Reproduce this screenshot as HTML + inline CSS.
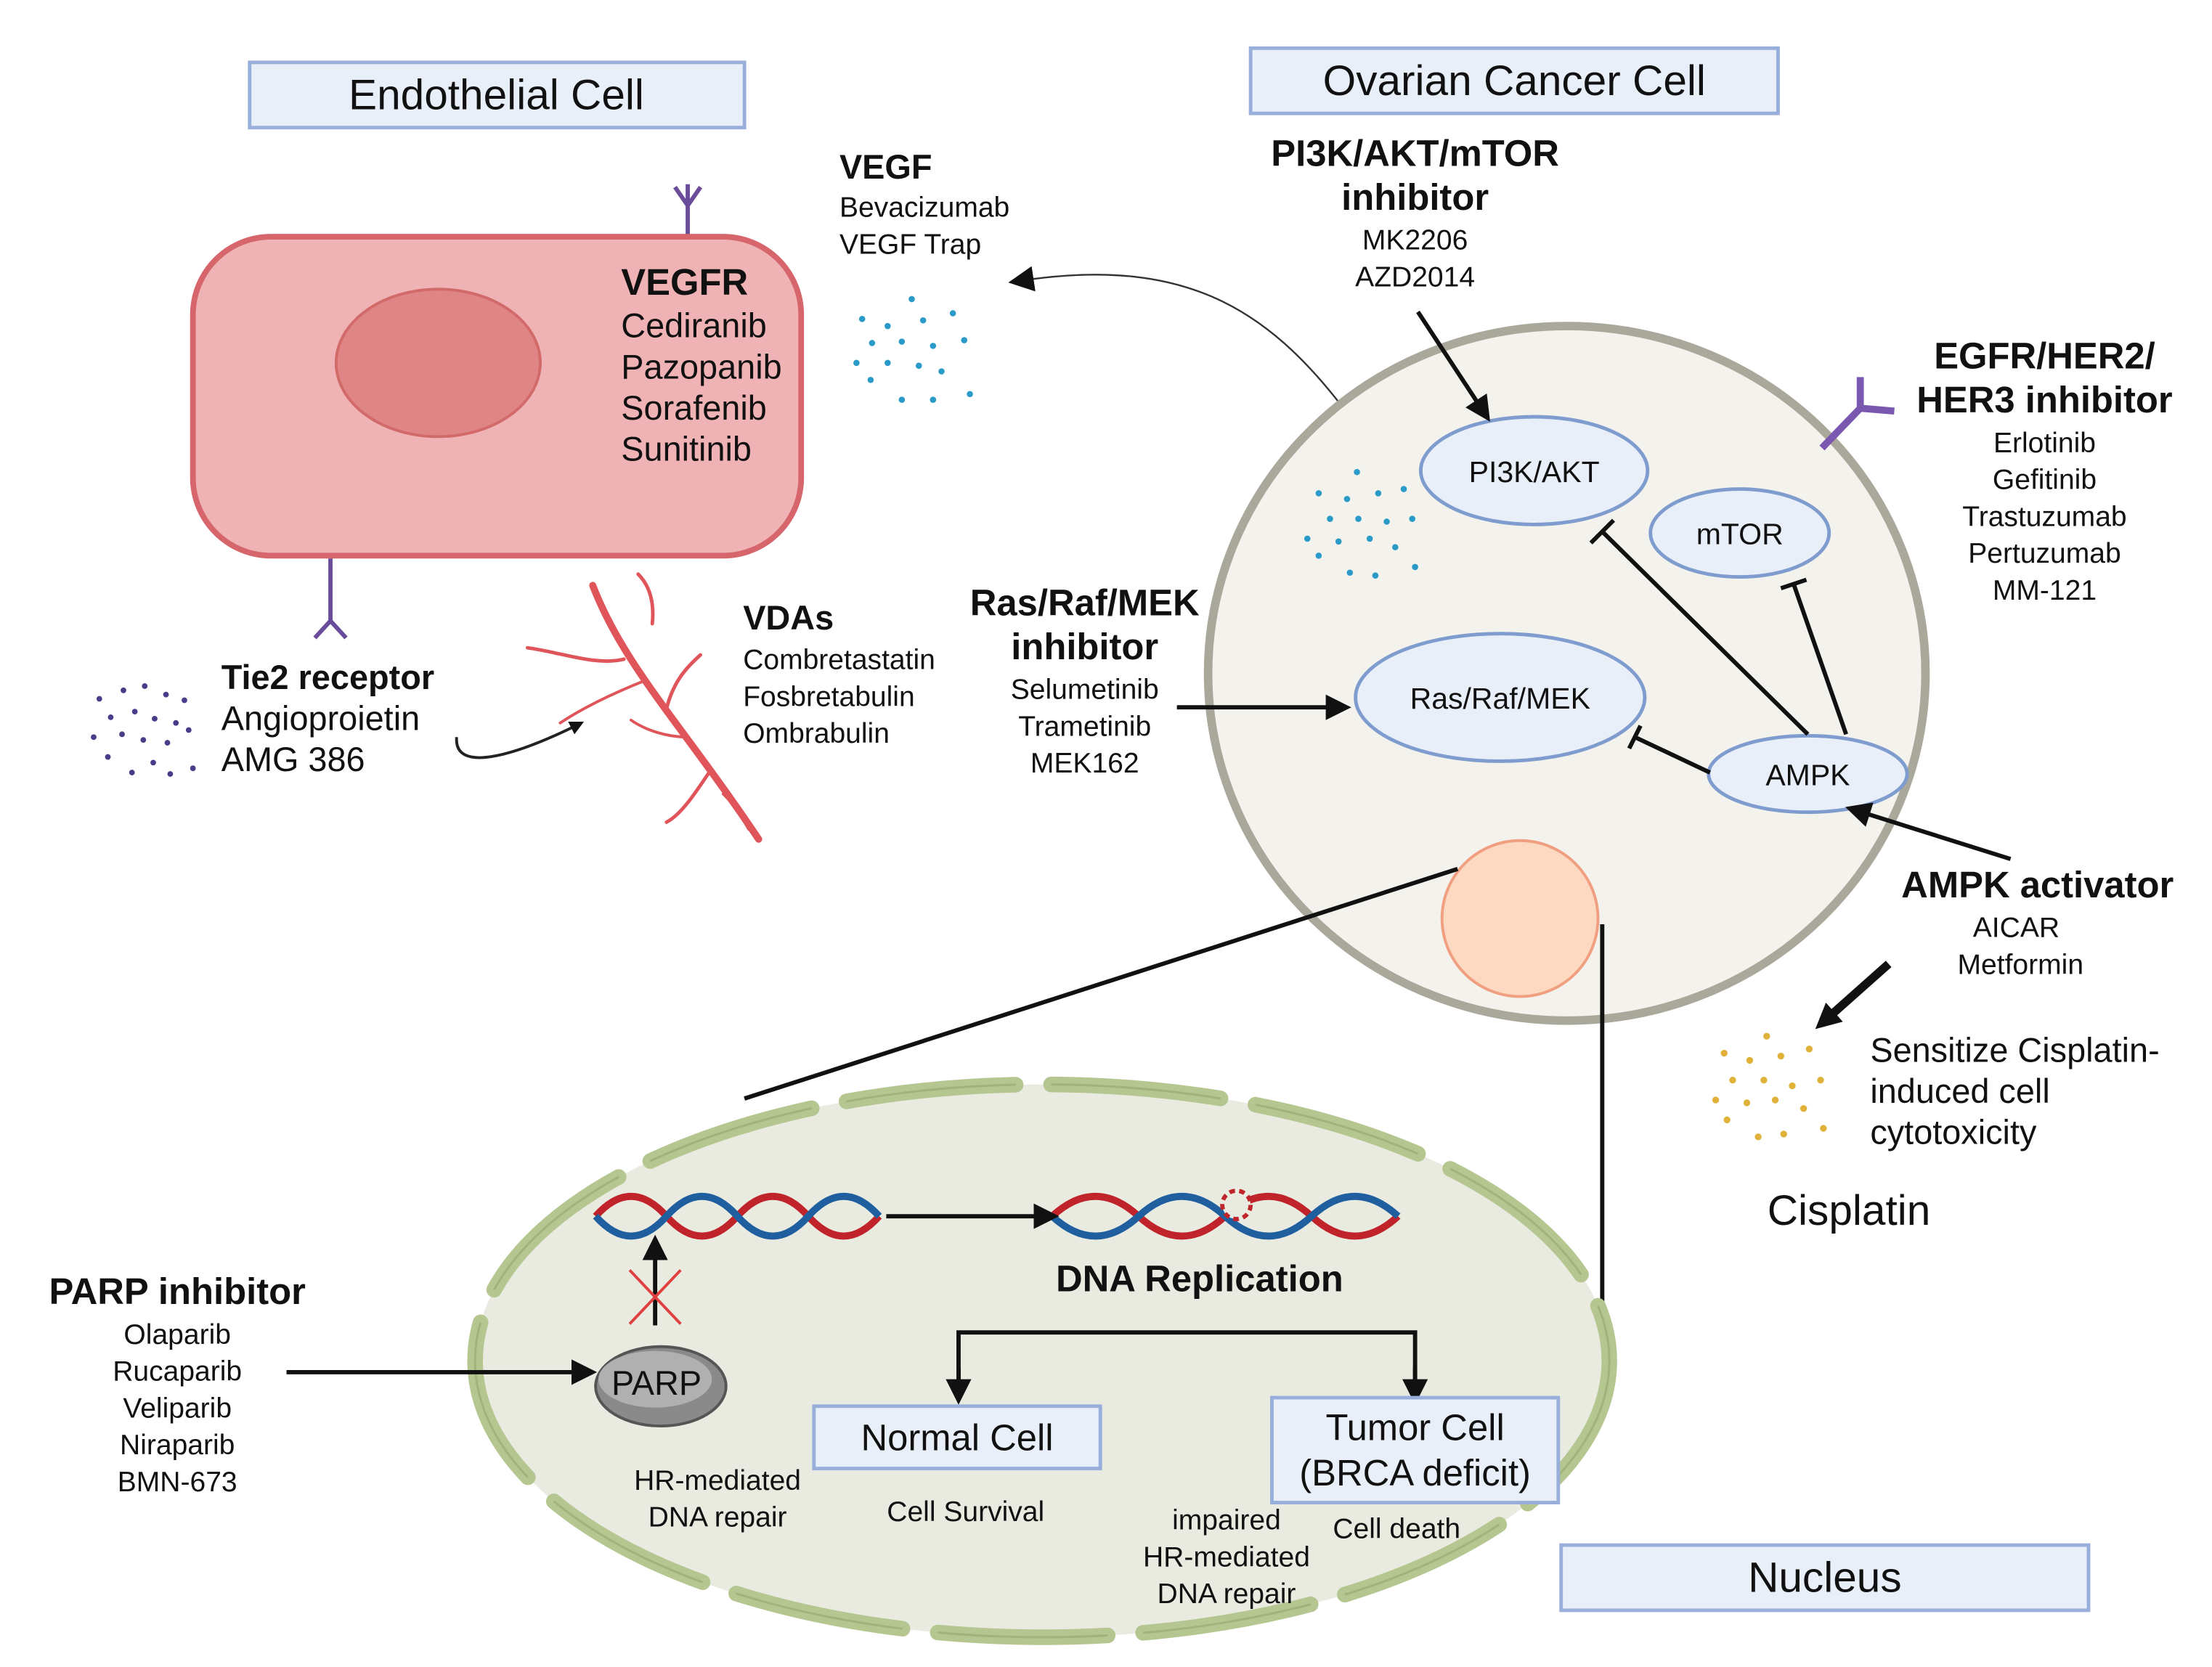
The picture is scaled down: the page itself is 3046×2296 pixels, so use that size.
<!DOCTYPE html>
<html><head><meta charset="utf-8">
<style>
html,body{margin:0;padding:0;background:#fff;}
svg{display:block;}
text{font-family:"Liberation Sans",sans-serif;fill:#111;}
.b{font-weight:bold;}
</style></head>
<body>
<svg width="3046" height="2296" viewBox="0 0 1560 1176" xmlns="http://www.w3.org/2000/svg">
<defs>
<marker id="ah" markerWidth="10" markerHeight="10" refX="8" refY="5" orient="auto" markerUnits="userSpaceOnUse" viewBox="0 0 10 10">
<path d="M0,0 L10,5 L0,10 z" fill="#111"/></marker>
<marker id="ahb" markerWidth="18" markerHeight="18" refX="9" refY="9" orient="auto" markerUnits="userSpaceOnUse" viewBox="0 0 18 18">
<path d="M0,0 L18,9 L0,18 z" fill="#111"/></marker>
</defs>
<rect width="1560" height="1176" fill="#fff"/>

<rect x="176" y="44" width="349" height="46" fill="#e9eff9" stroke="#98aedb" stroke-width="2.5"/>
<text x="350" y="77" font-size="30" text-anchor="middle">Endothelial Cell</text>
<rect x="882" y="34" width="372" height="46" fill="#e9eff9" stroke="#98aedb" stroke-width="2.5"/>
<text x="1068" y="67" font-size="30" text-anchor="middle">Ovarian Cancer Cell</text>

<path d="M485,130 L485,168 M485,145 L476,132 M485,145 L494,132" stroke="#6b4c9a" stroke-width="3" fill="none"/>
<rect x="136" y="167" width="429" height="225" rx="55" fill="#efb3b5" stroke="#d6656c" stroke-width="4"/>
<ellipse cx="309" cy="256" rx="72" ry="52" fill="#e08585" stroke="#d26a6a" stroke-width="2"/>
<text x="438" y="208" font-size="26" class="b">VEGFR</text>
<text x="438" y="238" font-size="24">Cediranib</text>
<text x="438" y="267" font-size="24">Pazopanib</text>
<text x="438" y="296" font-size="24">Sorafenib</text>
<text x="438" y="325" font-size="24">Sunitinib</text>
<path d="M233,394 L233,438 M233,438 L222,450 M233,438 L244,450" stroke="#6b4c9a" stroke-width="3" fill="none"/>

<g fill="#4b3c8a">
<circle cx="70" cy="493" r="2"/><circle cx="87" cy="487" r="2"/><circle cx="102" cy="484" r="2"/><circle cx="117" cy="490" r="2"/><circle cx="130" cy="494" r="2"/>
<circle cx="78" cy="506" r="2"/><circle cx="95" cy="502" r="2"/><circle cx="109" cy="507" r="2"/><circle cx="124" cy="510" r="2"/>
<circle cx="66" cy="520" r="2"/><circle cx="86" cy="518" r="2"/><circle cx="101" cy="522" r="2"/><circle cx="118" cy="524" r="2"/><circle cx="133" cy="515" r="2"/>
<circle cx="76" cy="534" r="2"/><circle cx="93" cy="545" r="2"/><circle cx="108" cy="538" r="2"/><circle cx="120" cy="546" r="2"/><circle cx="136" cy="542" r="2"/>
</g>
<text x="156" y="486" font-size="24" class="b">Tie2 receptor</text>
<text x="156" y="515" font-size="24">Angioproietin</text>
<text x="156" y="544" font-size="24">AMG 386</text>
<path d="M322,520 C320,545 360,535 410,510" stroke="#222" stroke-width="2" fill="none" marker-end="url(#ah)"/>

<g stroke="#e0555a" fill="none" stroke-linecap="round">
<path d="M418,413 C440,470 480,510 535,592" stroke-width="5"/>
<path d="M440,465 C420,470 395,460 372,457" stroke-width="2.5"/>
<path d="M460,440 C462,420 455,410 450,405" stroke-width="2.5"/>
<path d="M470,500 C475,480 485,470 494,462" stroke-width="2.5"/>
<path d="M455,480 C430,490 410,500 395,510" stroke-width="2"/>
<path d="M500,545 C490,560 480,575 470,580" stroke-width="2.5"/>
<path d="M510,560 C520,570 525,580 528,585" stroke-width="2"/>
<path d="M485,520 C470,520 455,515 445,508" stroke-width="2"/>
</g>
<text x="524" y="444" font-size="24" class="b">VDAs</text>
<text x="524" y="472" font-size="20">Combretastatin</text>
<text x="524" y="498" font-size="20">Fosbretabulin</text>
<text x="524" y="524" font-size="20">Ombrabulin</text>

<text x="592" y="126" font-size="24" class="b">VEGF</text>
<text x="592" y="153" font-size="20">Bevacizumab</text>
<text x="592" y="179" font-size="20">VEGF Trap</text>
<g fill="#2a9bc8">
<circle cx="643" cy="211" r="2.2"/><circle cx="608" cy="225" r="2.2"/><circle cx="626" cy="230" r="2.2"/><circle cx="651" cy="226" r="2.2"/><circle cx="672" cy="221" r="2.2"/>
<circle cx="615" cy="242" r="2.2"/><circle cx="636" cy="241" r="2.2"/><circle cx="658" cy="244" r="2.2"/><circle cx="680" cy="240" r="2.2"/>
<circle cx="604" cy="256" r="2.2"/><circle cx="626" cy="256" r="2.2"/><circle cx="648" cy="258" r="2.2"/><circle cx="664" cy="262" r="2.2"/>
<circle cx="614" cy="268" r="2.2"/><circle cx="636" cy="282" r="2.2"/><circle cx="658" cy="282" r="2.2"/><circle cx="684" cy="278" r="2.2"/>
</g>
<path d="M960,305 C900,220 840,180 720,198" stroke="#333" stroke-width="1.2" fill="none" marker-end="url(#ahb)"/>

<ellipse cx="1105" cy="475" rx="253" ry="245" fill="#f4f2ec" stroke="#aaa79b" stroke-width="6"/>
<g fill="#2a9bc8">
<circle cx="957" cy="333" r="2.2"/><circle cx="930" cy="348" r="2.2"/><circle cx="950" cy="352" r="2.2"/><circle cx="972" cy="348" r="2.2"/><circle cx="990" cy="345" r="2.2"/>
<circle cx="938" cy="366" r="2.2"/><circle cx="958" cy="366" r="2.2"/><circle cx="978" cy="368" r="2.2"/><circle cx="996" cy="366" r="2.2"/>
<circle cx="922" cy="380" r="2.2"/><circle cx="944" cy="382" r="2.2"/><circle cx="966" cy="380" r="2.2"/><circle cx="984" cy="386" r="2.2"/>
<circle cx="930" cy="392" r="2.2"/><circle cx="952" cy="404" r="2.2"/><circle cx="970" cy="406" r="2.2"/><circle cx="998" cy="400" r="2.2"/>
</g>
<g fill="#e9eff9" stroke="#7f9ccf" stroke-width="2.5">
<ellipse cx="1082" cy="332" rx="80" ry="38"/>
<ellipse cx="1227" cy="376" rx="63" ry="31"/>
<ellipse cx="1058" cy="492" rx="102" ry="45"/>
<ellipse cx="1275" cy="546" rx="70" ry="27"/>
</g>
<text x="1082" y="340" font-size="21" text-anchor="middle">PI3K/AKT</text>
<text x="1227" y="384" font-size="21" text-anchor="middle">mTOR</text>
<text x="1058" y="500" font-size="21" text-anchor="middle">Ras/Raf/MEK</text>
<text x="1275" y="554" font-size="21" text-anchor="middle">AMPK</text>
<g stroke="#111" stroke-width="3" fill="none">
<path d="M1275,518 L1130,375 M1122,383 L1138,367"/>
<path d="M1302,518 L1265,412 M1256,415 L1274,409"/>
<path d="M1206,545 L1153,520 M1149,528 L1157,512"/>
</g>
<circle cx="1072" cy="648" r="55" fill="#fcd9c0" stroke="#f0a080" stroke-width="2"/>

<text x="998" y="117" font-size="26" class="b" text-anchor="middle">PI3K/AKT/mTOR</text>
<text x="998" y="148" font-size="26" class="b" text-anchor="middle">inhibitor</text>
<text x="998" y="176" font-size="20" text-anchor="middle">MK2206</text>
<text x="998" y="202" font-size="20" text-anchor="middle">AZD2014</text>
<line x1="1000" y1="220" x2="1046" y2="290" stroke="#111" stroke-width="3" marker-end="url(#ahb)"/>

<path d="M1285,316 L1312,288 M1312,288 L1312,266 M1312,288 L1336,290" stroke="#7b58b0" stroke-width="5" fill="none"/>
<text x="1442" y="260" font-size="26" class="b" text-anchor="middle">EGFR/HER2/</text>
<text x="1442" y="291" font-size="26" class="b" text-anchor="middle">HER3 inhibitor</text>
<text x="1442" y="319" font-size="20" text-anchor="middle">Erlotinib</text>
<text x="1442" y="345" font-size="20" text-anchor="middle">Gefitinib</text>
<text x="1442" y="371" font-size="20" text-anchor="middle">Trastuzumab</text>
<text x="1442" y="397" font-size="20" text-anchor="middle">Pertuzumab</text>
<text x="1442" y="423" font-size="20" text-anchor="middle">MM-121</text>

<text x="765" y="434" font-size="26" class="b" text-anchor="middle">Ras/Raf/MEK</text>
<text x="765" y="465" font-size="26" class="b" text-anchor="middle">inhibitor</text>
<text x="765" y="493" font-size="20" text-anchor="middle">Selumetinib</text>
<text x="765" y="519" font-size="20" text-anchor="middle">Trametinib</text>
<text x="765" y="545" font-size="20" text-anchor="middle">MEK162</text>
<line x1="830" y1="499" x2="944" y2="499" stroke="#111" stroke-width="3" marker-end="url(#ahb)"/>

<line x1="1418" y1="606" x2="1310" y2="572" stroke="#111" stroke-width="3" marker-end="url(#ahb)"/>
<text x="1437" y="633" font-size="26" class="b" text-anchor="middle">AMPK activator</text>
<text x="1422" y="661" font-size="20" text-anchor="middle">AICAR</text>
<text x="1425" y="687" font-size="20" text-anchor="middle">Metformin</text>
<line x1="1332" y1="680" x2="1287" y2="720" stroke="#111" stroke-width="6" marker-end="url(#ahb)"/>
<g fill="#e0b23a">
<circle cx="1246" cy="731" r="2.4"/><circle cx="1216" cy="743" r="2.4"/><circle cx="1234" cy="748" r="2.4"/><circle cx="1256" cy="745" r="2.4"/><circle cx="1276" cy="740" r="2.4"/>
<circle cx="1222" cy="762" r="2.4"/><circle cx="1244" cy="762" r="2.4"/><circle cx="1264" cy="766" r="2.4"/><circle cx="1284" cy="762" r="2.4"/>
<circle cx="1210" cy="776" r="2.4"/><circle cx="1232" cy="778" r="2.4"/><circle cx="1252" cy="776" r="2.4"/><circle cx="1272" cy="782" r="2.4"/>
<circle cx="1218" cy="790" r="2.4"/><circle cx="1240" cy="802" r="2.4"/><circle cx="1258" cy="800" r="2.4"/><circle cx="1286" cy="796" r="2.4"/>
</g>
<text x="1319" y="749" font-size="24">Sensitize Cisplatin-</text>
<text x="1319" y="778" font-size="24">induced cell</text>
<text x="1319" y="807" font-size="24">cytotoxicity</text>
<text x="1304" y="864" font-size="30" text-anchor="middle">Cisplatin</text>

<line x1="1028" y1="613" x2="525" y2="775" stroke="#111" stroke-width="3"/>
<line x1="1130" y1="652" x2="1130" y2="935" stroke="#111" stroke-width="3"/>

<ellipse cx="735" cy="960" rx="400" ry="195" fill="#e9ebe1"/>
<ellipse cx="735" cy="960" rx="400" ry="195" fill="none" stroke="#b5c690" stroke-width="11" stroke-dasharray="120 25" stroke-linecap="round"/>
<ellipse cx="735" cy="960" rx="400" ry="195" fill="none" stroke="#93a86c" stroke-width="1.5" stroke-dasharray="120 25" opacity="0.6"/>

<g fill="none" stroke-width="5">
<path d="M420,858 q25,-28 50,0 t50,0 t50,0 t50,0" stroke="#c0242a"/>
<path d="M420,858 q25,28 50,0 t50,0 t50,0 t50,0" stroke="#1f5fa0"/>
<path d="M742,858 q30.5,-28 61,0 t61,0 t61,0 t61,0" stroke="#c0242a"/>
<path d="M742,858 q30.5,28 61,0 t61,0 t61,0 t61,0" stroke="#1f5fa0"/>
</g>
<circle cx="872" cy="850" r="10" fill="#e9ebe1" stroke="#c0242a" stroke-width="3" stroke-dasharray="4 3"/>
<line x1="625" y1="858" x2="738" y2="858" stroke="#111" stroke-width="3" marker-end="url(#ahb)"/>
<text x="846" y="911" font-size="26" class="b" text-anchor="middle">DNA Replication</text>

<line x1="462" y1="935" x2="462" y2="880" stroke="#111" stroke-width="3" marker-end="url(#ahb)"/>
<path d="M444,896 L480,934 M480,896 L444,934" stroke="#e04040" stroke-width="2"/>
<ellipse cx="466" cy="978" rx="46" ry="28" fill="#8a8a8a" stroke="#555" stroke-width="2"/>
<ellipse cx="462" cy="973" rx="40" ry="20" fill="#b0b0b0"/>
<text x="463" y="984" font-size="24" text-anchor="middle">PARP</text>
<line x1="202" y1="968" x2="412" y2="968" stroke="#111" stroke-width="3" marker-end="url(#ahb)"/>

<text x="125" y="920" font-size="26" class="b" text-anchor="middle">PARP inhibitor</text>
<text x="125" y="948" font-size="20" text-anchor="middle">Olaparib</text>
<text x="125" y="974" font-size="20" text-anchor="middle">Rucaparib</text>
<text x="125" y="1000" font-size="20" text-anchor="middle">Veliparib</text>
<text x="125" y="1026" font-size="20" text-anchor="middle">Niraparib</text>
<text x="125" y="1052" font-size="20" text-anchor="middle">BMN-673</text>

<path d="M676,978 L676,940 L998,940 L998,978" stroke="#111" stroke-width="3" fill="none"/>
<line x1="676" y1="965" x2="676" y2="982" stroke="#111" stroke-width="3" marker-end="url(#ahb)"/>
<line x1="998" y1="965" x2="998" y2="982" stroke="#111" stroke-width="3" marker-end="url(#ahb)"/>
<rect x="574" y="992" width="202" height="44" fill="#e9eff9" stroke="#98aedb" stroke-width="2.5"/>
<text x="675" y="1023" font-size="26" text-anchor="middle">Normal Cell</text>
<rect x="897" y="986" width="202" height="74" fill="#e9eff9" stroke="#98aedb" stroke-width="2.5"/>
<text x="998" y="1016" font-size="26" text-anchor="middle">Tumor Cell</text>
<text x="998" y="1048" font-size="26" text-anchor="middle">(BRCA deficit)</text>

<text x="506" y="1051" font-size="20" text-anchor="middle">HR-mediated</text>
<text x="506" y="1077" font-size="20" text-anchor="middle">DNA repair</text>
<text x="681" y="1073" font-size="20" text-anchor="middle">Cell Survival</text>
<text x="865" y="1079" font-size="20" text-anchor="middle">impaired</text>
<text x="865" y="1105" font-size="20" text-anchor="middle">HR-mediated</text>
<text x="865" y="1131" font-size="20" text-anchor="middle">DNA repair</text>
<text x="985" y="1085" font-size="20" text-anchor="middle">Cell death</text>

<rect x="1101" y="1090" width="372" height="46" fill="#e9eff9" stroke="#98aedb" stroke-width="2.5"/>
<text x="1287" y="1123" font-size="30" text-anchor="middle">Nucleus</text>
</svg>
</body></html>
